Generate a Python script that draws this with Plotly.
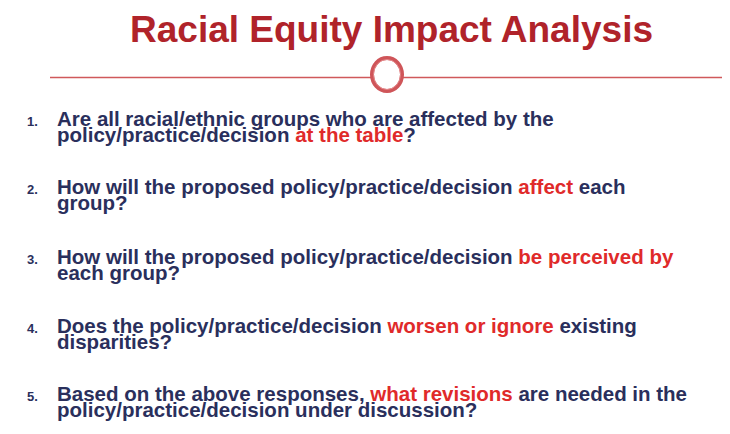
import plotly.graph_objects as go

title_text = "Racial Equity Impact Analysis"
item_numbers = ["1.", "2.", "3.", "4.", "5."]
# Each item: list of lines; text inside [ ] is highlighted red
item_lines = [
    ["Are all racial/ethnic groups who are affected by the",
     "policy/practice/decision [at the table]?"],
    ["How will the proposed policy/practice/decision [affect] each",
     "group?"],
    ["How will the proposed policy/practice/decision [be perceived by]",
     "each group?"],
    ["Does the policy/practice/decision [worsen or ignore] existing",
     "disparities?"],
    ["Based on the above responses, [what revisions] are needed in the",
     "policy/practice/decision under discussion?"],
]
item_y = [118, 186, 256, 325, 393]

NAVY = "#2a2f5c"
RED = "#e02a2a"
TITLE_RED = "#b0232a"
BODY_FONT = "Liberation Sans, Arial, sans-serif"
GLYPH_PX = 20.5      # visible glyph size of the body text
LINE_GAP = 16        # baseline-to-baseline distance in the reference

# page body has an 8px default margin: shift data ranges so coordinates = page pixels
OFF = 8


def rich(line):
    inner = (line.replace("[", f"<span style='color:{RED}'>")
                 .replace("]", "</span>"))
    return f"<span style='font-size:{GLYPH_PX}px'>{inner}</span>"


fig = go.Figure()
fig.add_trace(go.Scatter(x=[OFF, 730 + OFF], y=[OFF, 434 + OFF], mode="markers",
                         marker=dict(opacity=0), hoverinfo="skip", showlegend=False))

annotations = [dict(x=391, y=29, xref="x", yref="y", text=f"<b>{title_text}</b>",
                    showarrow=False, xanchor="center", yanchor="middle",
                    font=dict(family="Liberation Sans, Arial, sans-serif", size=37, color=TITLE_RED))]

for num, lines, y0 in zip(item_numbers, item_lines, item_y):
    annotations.append(dict(x=25, y=y0 + 3, xref="x", yref="y", text=f"<b>{num}</b>",
                            showarrow=False, xanchor="left", yanchor="middle",
                            font=dict(family=BODY_FONT, size=13, color=NAVY)))
    body = "<br>".join(f"<b>{rich(ln)}</b>" for ln in lines)
    annotations.append(dict(x=55, y=y0 + LINE_GAP / 2, xref="x", yref="y", text=body,
                            showarrow=False, xanchor="left", yanchor="middle", align="left",
                            font=dict(family=BODY_FONT, size=LINE_GAP / 1.3, color=NAVY)))

shapes = [
    dict(type="line", x0=50, x1=372, y0=77.5, y1=77.5, xref="x", yref="y",
         line=dict(color="#d0595b", width=1.5)),
    dict(type="line", x0=402, x1=740, y0=77.5, y1=77.5, xref="x", yref="y",
         line=dict(color="#d0595b", width=1.5)),
    dict(type="circle", x0=372, x1=402, y0=58, y1=91, xref="x", yref="y",
         line=dict(color="#cf5559", width=4), fillcolor="white"),
    dict(type="circle", x0=373.5, x1=400.5, y0=59.5, y1=89.5, xref="x", yref="y",
         line=dict(color="#e48a8c", width=1), fillcolor="rgba(0,0,0,0)"),
]

fig.update_layout(
    width=730, height=434,
    margin=dict(l=0, r=0, t=0, b=0),
    paper_bgcolor="white", plot_bgcolor="white",
    xaxis=dict(range=[OFF, 730 + OFF], visible=False, fixedrange=True),
    yaxis=dict(range=[434 + OFF, OFF], visible=False, fixedrange=True),
    annotations=annotations, shapes=shapes, showlegend=False,
)
fig.write_html("out.html")
